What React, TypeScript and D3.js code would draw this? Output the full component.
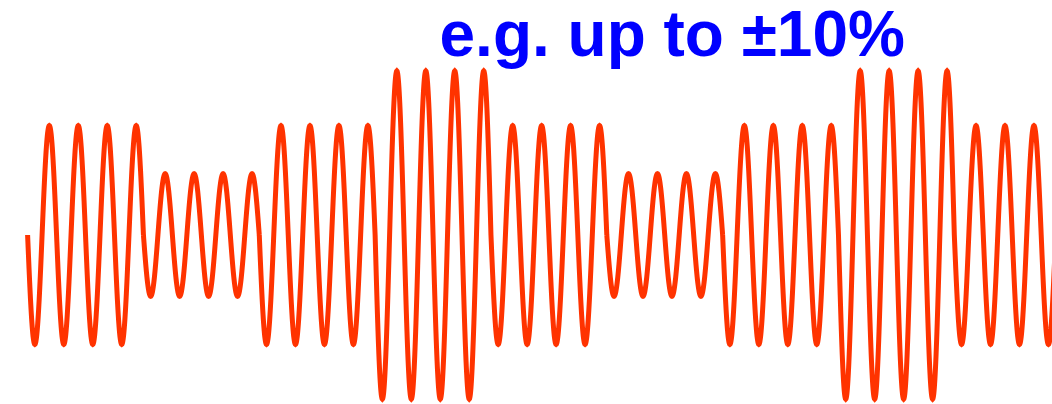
import React from "react";
import * as d3 from "d3";

// Segment amplitude levels (relative), each segment lasts 4 carrier cycles
const segmentLevels: number[] = [1.0, 0.56, 1.0, 1.5, 1.0, 0.56, 1.0, 1.5, 1.0];
const cyclesPerSegment = 4;
const titleText = "e.g. up to ±10%";

const W = 1052;
const H = 404;

export default function App() {
  if (typeof document !== "undefined") document.body.style.margin = "0";
  const totalCycles = segmentLevels.length * cyclesPerSegment;
  // x scale: cycles -> pixels
  const x = d3.scaleLinear().domain([0, 1]).range([27.6, 27.6 + 28.96]);
  const y = d3.scaleLinear().domain([-1.5, 1.5]).range([399, 71]);
  const line = d3
    .line<[number, number]>()
    .x((d) => x(d[0]))
    .y((d) => y(d[1]));

  const paths = segmentLevels.map((amp, i) => {
    const start = i * cyclesPerSegment;
    const pts: [number, number][] = [];
    const n = 400;
    for (let k = 0; k <= n; k++) {
      const t = start + (k / n) * cyclesPerSegment;
      pts.push([t, -amp * Math.sin(2 * Math.PI * t)]);
    }
    return line(pts) || "";
  });

  return (
    <svg width={W} height={H} style={{ display: "block" }}>
      <rect width={W} height={H} fill="#ffffff" />
      <g>
        {paths.map((d, i) => (
          <path key={i} d={d} fill="none" stroke="#ff3300" strokeWidth={5} />
        ))}
      </g>
      <text
        x={439.5}
        y={56}
        fill="#0000ff"
        fontFamily="'Liberation Sans', Arial, sans-serif"
        fontWeight="bold"
        fontSize={64}
      >
        {titleText}
      </text>
    </svg>
  );
}
